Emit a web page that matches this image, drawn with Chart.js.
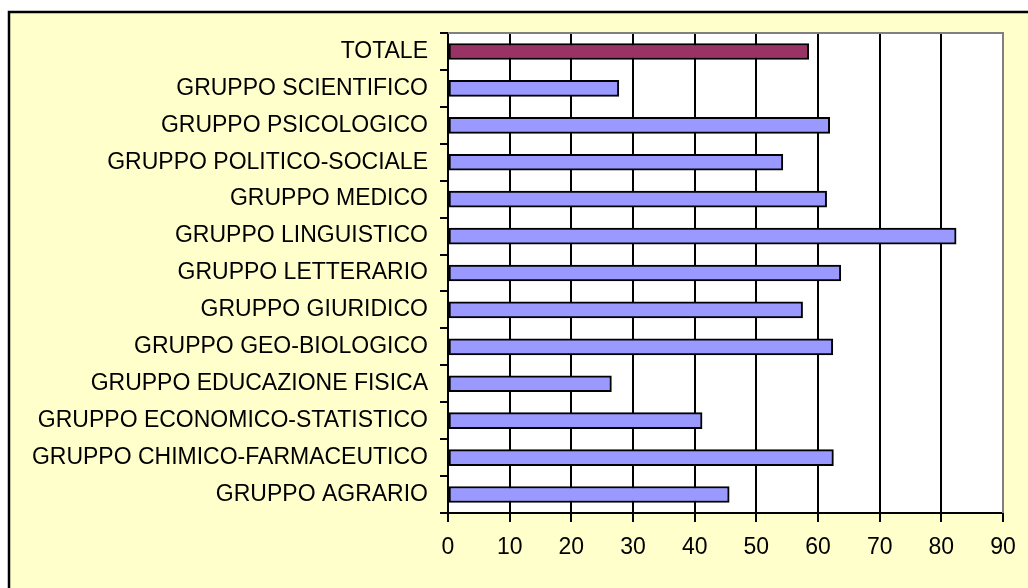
<!DOCTYPE html>
<html>
<head>
<meta charset="utf-8">
<script src="https://cdn.jsdelivr.net/npm/chart.js@4/dist/chart.umd.min.js"></script>
<style>
html,body{margin:0;padding:0;background:#ffffff;}
#wrap{position:relative;width:1028px;height:588px;}
</style>
</head>
<body>
<div id="wrap"><canvas id="c" width="1028" height="588"></canvas></div>
<script>
const categories = [
  "TOTALE",
  "GRUPPO SCIENTIFICO",
  "GRUPPO PSICOLOGICO",
  "GRUPPO POLITICO-SOCIALE",
  "GRUPPO MEDICO",
  "GRUPPO LINGUISTICO",
  "GRUPPO LETTERARIO",
  "GRUPPO GIURIDICO",
  "GRUPPO GEO-BIOLOGICO",
  "GRUPPO EDUCAZIONE FISICA",
  "GRUPPO ECONOMICO-STATISTICO",
  "GRUPPO CHIMICO-FARMACEUTICO",
  "GRUPPO AGRARIO"
];
const values = [58.5, 27.7, 61.9, 54.3, 61.4, 82.4, 63.7, 57.5, 62.4, 26.5, 41.2, 62.5, 45.6];
const xMin = 0, xMax = 90, xStep = 10;

const barColors = categories.map(c => c === "TOTALE" ? "#993366" : "#9999FF");

const backgroundPlugin = {
  id: 'bgbox',
  beforeDraw(chart) {
    const ctx = chart.ctx;
    ctx.save();
    ctx.fillStyle = '#FFFFCC';
    ctx.fillRect(9, 12, 1030, 590);
    ctx.strokeStyle = '#000000';
    ctx.lineWidth = 2.5;
    ctx.strokeRect(9, 12, 1040, 600);
    const a = chart.chartArea;
    ctx.fillStyle = '#FFFFFF';
    ctx.fillRect(a.left, a.top, a.right - a.left, a.bottom - a.top);
    ctx.restore();
  },
  afterDatasetsDraw(chart) {
    const ctx = chart.ctx;
    const a = chart.chartArea;
    ctx.save();
    ctx.strokeStyle = '#808080';
    ctx.lineWidth = 2;
    ctx.beginPath();
    ctx.moveTo(a.left, a.top);
    ctx.lineTo(a.right, a.top);
    ctx.lineTo(a.right, a.bottom);
    ctx.stroke();
    ctx.restore();
  }
};

const labelFont = { family: 'Liberation Sans, Arial, sans-serif', size: 23 };

new Chart(document.getElementById('c'), {
  type: 'bar',
  data: {
    labels: categories,
    datasets: [{
      data: values,
      backgroundColor: barColors,
      borderColor: '#000000',
      borderWidth: 2,
      borderSkipped: false,
      barThickness: 16
    }]
  },
  options: {
    indexAxis: 'y',
    responsive: false,
    animation: false,
    devicePixelRatio: 1,
    layout: { padding: { top: 33, right: 25, left: 0, bottom: 0 } },
    plugins: { legend: { display: false }, tooltip: { enabled: false }, title: { display: false } },
    scales: {
      x: {
        type: 'linear',
        min: xMin, max: xMax,
        ticks: { stepSize: xStep, color: '#000000', padding: 12, font: labelFont },
        grid: {
          color: (ctx) => (ctx.tick && ctx.tick.value === xMax) ? '#808080' : '#000000',
          tickColor: '#000000',
          lineWidth: 2,
          tickLength: 9
        },
        border: { display: true, color: '#000000', width: 2 },
        afterFit(scale) { scale.height = 75; }
      },
      y: {
        type: 'category',
        offset: true,
        ticks: { color: '#000000', padding: 12, font: labelFont },
        grid: {
          offset: true,
          drawOnChartArea: false,
          drawTicks: true,
          tickLength: 8,
          color: '#000000',
          lineWidth: 2
        },
        border: { display: true, color: '#000000', width: 2 },
        afterFit(scale) { scale.width = 448; }
      }
    }
  },
  plugins: [backgroundPlugin]
});
</script>
</body>
</html>
